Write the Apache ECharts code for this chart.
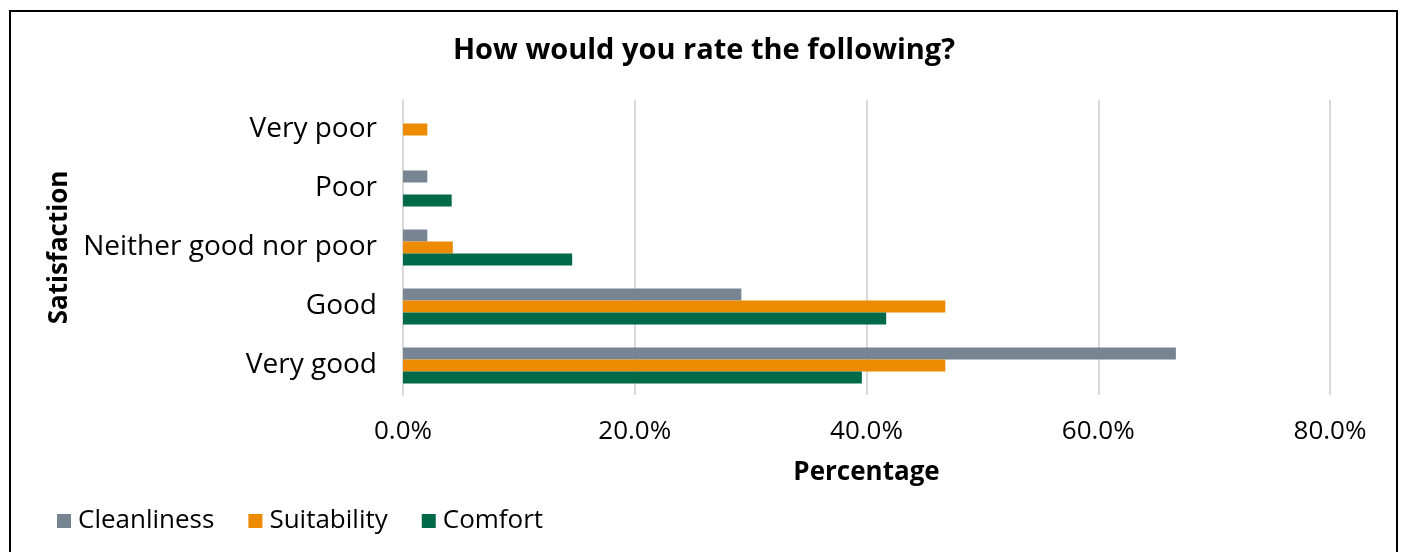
<!DOCTYPE html>
<html><head><meta charset="utf-8">
<script src="https://cdn.jsdelivr.net/npm/echarts@6/dist/echarts.min.js"></script>
<style>
html,body{margin:0;padding:0;background:#fff;}
#frame{position:absolute;left:9px;top:10px;width:1389px;height:560px;border:2px solid #000;box-sizing:border-box;}
#c{position:absolute;left:0;top:0;width:1408px;height:552px;}
</style></head>
<body><div id="frame"></div><div id="c"></div>
<script>
const categories = ['Very poor', 'Poor', 'Neither good nor poor', 'Good', 'Very good'];
const cleanliness = [0, 2.1, 2.1, 29.2, 66.7];
const suitability = [2.1, 0, 4.3, 46.8, 46.8];
const comfort = [0, 4.2, 14.6, 41.7, 39.6];
const xTicks = [0, 20, 40, 60, 80];
const font = '"Open Sans", "Noto Sans", sans-serif';
const chart = echarts.init(document.getElementById('c'));
function bar(name, data, color) {
  return { name, type: 'bar', data, barGap: '0%', barCategoryGap: '39%',
    itemStyle: { color }, emphasis: { disabled: true } };
}
chart.setOption({
  animation: false,
  textStyle: { fontFamily: font },
  title: { text: 'How would you rate the following?', left: 'center', top: 31,
    textStyle: { fontFamily: font, fontSize: 29, fontWeight: 'bold', color: '#000' } },
  legend: { left: 52, top: 503, itemWidth: 14, itemHeight: 14, itemGap: 34,
    icon: 'rect', data: ['Cleanliness', 'Suitability', 'Comfort'],
    textStyle: { fontFamily: font, fontSize: 26, color: '#000', padding: [0, 0, 0, 2] } },
  grid: { left: 403, right: 78, top: 100, bottom: 157, containLabel: false },
  xAxis: { type: 'value', min: 0, max: 80, interval: 20,
    name: 'Percentage', nameLocation: 'middle', nameGap: 65,
    nameTextStyle: { fontFamily: font, fontSize: 26, fontWeight: 'bold', color: '#000' },
    axisLine: { show: false }, axisTick: { show: false },
    axisLabel: { margin: 24, fontSize: 26, color: '#000', fontFamily: font,
      formatter: v => xTicks.includes(v) ? v.toFixed(1) + '%' : '' },
    splitLine: { lineStyle: { color: '#d9d9d9', width: 2 } } },
  yAxis: { type: 'category', data: categories, inverse: true,
    name: 'Satisfaction', nameLocation: 'middle', nameGap: 326, nameRotate: 90,
    nameTextStyle: { fontFamily: font, fontSize: 26, fontWeight: 'bold', color: '#000' },
    axisLine: { show: true, lineStyle: { color: '#d9d9d9', width: 2 } },
    axisTick: { show: false },
    axisLabel: { margin: 26, fontSize: 28, color: '#000', fontFamily: font } },
  series: [
    bar('Cleanliness', cleanliness, '#778592'),
    bar('Suitability', suitability, '#ec8a00'),
    bar('Comfort', comfort, '#006a48')
  ]
});
</script></body></html>
